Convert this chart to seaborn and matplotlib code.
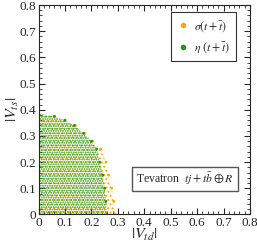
import numpy as np
import pandas as pd
import seaborn as sns
import matplotlib.pyplot as plt

# boundary of the allowed region
vts_levels = [0.0, 0.05, 0.10, 0.15, 0.20, 0.25, 0.28, 0.31, 0.34, 0.36, 0.375, 0.385]
vtd_sigma = [0.290, 0.285, 0.277, 0.265, 0.255, 0.235, 0.205, 0.175, 0.140, 0.100, 0.060, 0.0]
vtd_eta = [0.258, 0.255, 0.250, 0.243, 0.232, 0.220, 0.200, 0.170, 0.135, 0.100, 0.060, 0.0]

series_labels = [r'$\sigma(t+\bar{t})$', r'$\eta\ (t+\bar{t})$']
series_colors = ['#ffa500', '#1a9a10']
ticks = [0, 0.1, 0.2, 0.3, 0.4, 0.5, 0.6, 0.7, 0.8]
tick_labels = ['0', '0.1', '0.2', '0.3', '0.4', '0.5', '0.6', '0.7', '0.8']

sns.set_style('ticks')
plt.rcParams['font.family'] = ['Liberation Serif', 'DejaVu Serif']
plt.rcParams['mathtext.fontset'] = 'stix'
plt.rcParams['hatch.linewidth'] = 0.85

df = pd.concat([
    pd.DataFrame({'Vtd': vtd_sigma, 'Vts': vts_levels, 'series': series_labels[0]}),
    pd.DataFrame({'Vtd': vtd_eta, 'Vts': vts_levels, 'series': series_labels[1]}),
])

fig = plt.figure(figsize=(2.57, 2.45), dpi=100)
ax = fig.add_axes([0.150, 0.1245, 0.823, 0.855])

# filled scan region, dotted like the scatter of scan points
for vtd, col, dens in [(vtd_sigma, series_colors[0], '....'), (vtd_eta, series_colors[1], '.......')]:
    ax.fill_betweenx(vts_levels, 0, vtd, facecolor='none', edgecolor=col,
                     linewidth=0, hatch=dens)

sns.scatterplot(data=df, x='Vtd', y='Vts', hue='series', palette=series_colors,
                s=4, linewidth=0, ax=ax, legend=True)

ax.set_xlim(0, 0.8)
ax.set_ylim(0, 0.8)
ax.set_xticks(ticks)
ax.set_xticklabels(tick_labels)
ax.set_yticks(ticks)
ax.set_yticklabels(tick_labels)
ax.set_xticks(np.arange(0, 0.81, 0.02), minor=True)
ax.set_yticks(np.arange(0, 0.81, 0.02), minor=True)
ax.tick_params(which='both', direction='in', top=True, right=True, labelsize=9.5, pad=1.5)
ax.tick_params(which='major', length=4, width=0.8)
ax.tick_params(which='minor', length=2, width=0.6)
for sp in ax.spines.values():
    sp.set_linewidth(0.8)

ax.set_xlabel(r'$|V_{td}|$', fontsize=11.5, labelpad=-1)
ax.set_ylabel(r'$|V_{ts}|$', fontsize=11.5, labelpad=-1)

handles, labels = ax.get_legend_handles_labels()
for h in handles:
    h.set_markersize(4)
leg = ax.legend(handles, labels, loc='upper right', bbox_to_anchor=(0.935, 0.965),
                frameon=True, fancybox=False, fontsize=8.5, handletextpad=0.4,
                labelspacing=0.55, borderpad=0.55, handlelength=1.0, borderaxespad=0)
leg.get_frame().set_edgecolor('black')
leg.get_frame().set_linewidth(0.8)

ax.text(0.37, 0.135, r'Tevatron  $tj + t\bar{b} \oplus R$', transform=ax.transData,
        ha='left', va='center', fontsize=8.5,
        bbox=dict(boxstyle='square,pad=0.35', facecolor='white', edgecolor='#555555', linewidth=1.0))

fig.savefig('out.png', dpi=100)
